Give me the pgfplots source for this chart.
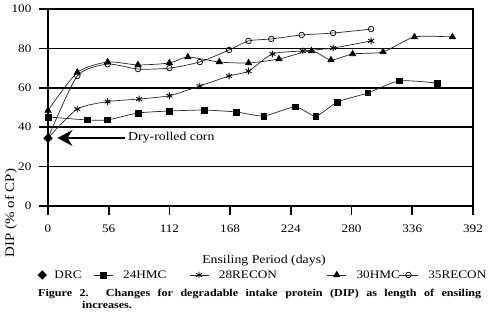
\documentclass[border=0pt]{standalone}
\usepackage{fontspec}
\setmainfont{Liberation Serif}[FakeStretch=1.15]
\usepackage{pgfplots}
\pgfplotsset{compat=1.18}
\usetikzlibrary{arrows.meta}
\begin{document}
\begin{tikzpicture}[x=1pt,y=1pt]
\useasboundingbox (0,0) rectangle (489,324);
\begin{axis}[
  at={(48pt,118pt)}, anchor=south west,
  scale only axis, width=425pt, height=197pt,
  xmin=0, xmax=392, ymin=0, ymax=100,
  xtick={0,56,112,168,224,280,336,392},
  ytick={0,40,60,80,100},
  extra y ticks={20},
  extra y tick style={major grid style={line width=0.8pt,black}},
  ymajorgrids,
  major grid style={line width=1.6pt,black},
  axis line style={line width=1.6pt,black},
  tick align=outside, xtick pos=bottom, ytick pos=left,
  major tick length=9pt,
  tick style={line width=1.6pt,black},
  /pgf/number format/assume math mode=true,
  tick label style={font=\fontsize{11.5}{13}\selectfont},
  xticklabel style={yshift=-6pt},
  yticklabel style={xshift=-4pt},
  legend columns=5,
  legend image code/.code={\draw[mark repeat=2,mark phase=2] plot coordinates {(0pt,0pt) (9.5pt,0pt) (19pt,0pt)};},
  legend style={draw=none, fill=none, inner sep=0pt, outer sep=0pt,
    at={(-0.0235,-0.3503)}, anchor=west,
    nodes={inner sep=0pt, outer sep=0pt},
    font=\fontsize{11.5}{13}\selectfont,
    /tikz/column 1/.style={column sep=8pt},
    /tikz/column 3/.style={column sep=10pt},
    /tikz/column 5/.style={column sep=10pt},
    /tikz/column 7/.style={column sep=10pt},
    /tikz/column 9/.style={column sep=10pt}},
]
% DRC (legend entry)
\addplot[only marks, mark=square*, mark size=3pt, mark options={rotate=45, fill=black, draw=black}]
  coordinates {(0,34.5)};
\addlegendentry{\makebox[39pt][l]{DRC}}
% 24HMC
\addplot[black!85, line width=0.7pt, smooth, tension=0.4,
  mark=square*, mark size=2.9pt, mark options={solid, fill=black, draw=black}]
  coordinates {(0,45.2)(36,43.7)(55,43.7)(83,47.2)(112,48.2)(144,48.7)(174,47.7)
  (199,45.7)(228,50.3)(247,45.7)(267,52.8)(295,57.4)(324,63.5)(359,62.4)};
\addlegendentry{\makebox[66pt][l]{24HMC}}
% 28RECON
\addplot[black!85, line width=0.7pt, smooth, tension=0.4,
  mark=asterisk, mark size=3.4pt, mark indices={2,...,12},
  mark options={solid, draw=black, line width=0.9pt},
  legend image code/.code={\draw[mark indices={2}] plot coordinates {(0pt,0pt) (9.5pt,0pt) (19pt,0pt)};}]
  coordinates {(0,34.5)(27,49.2)(55,53.0)(84,54.3)(112,56.0)(140,60.9)(167,66.0)
  (185,68.5)(207,77.2)(235,78.7)(263,80.2)(298,83.8)};
\addlegendentry{\makebox[108pt][l]{28RECON}}
% 30HMC
\addplot[black!85, line width=0.7pt, smooth, tension=0.4,
  mark=triangle*, mark size=3.6pt, mark options={solid, fill=black, draw=black}]
  coordinates {(0,48.5)(27,67.8)(55,73.1)(83,71.6)(112,72.6)(129,75.6)(158,73.1)
  (185,72.6)(213,74.6)(243,78.7)(261,74.1)(281,77.2)(309,78.2)(338,85.8)(373,85.8)};
\addlegendentry{\makebox[42pt][l]{30HMC}}
% 35RECON
\addplot[black!85, line width=0.7pt, smooth, tension=0.4,
  mark=o, mark size=2.8pt, mark indices={2,...,12},
  mark options={solid, draw=black, fill=white, line width=0.7pt},
  legend image code/.code={\draw[mark indices={2}] plot coordinates {(0pt,0pt) (9.5pt,0pt) (19pt,0pt)};}]
  coordinates {(0,34.5)(27,66.0)(55,72.0)(83,69.5)(112,70.0)(140,73.1)(167,79.2)
  (185,83.8)(206,84.8)(234,86.8)(263,87.8)(298,89.8)};
\addlegendentry{35RECON}
% DRC on top
\addplot[only marks, mark=square*, mark size=3pt, mark options={rotate=45, fill=black, draw=black}, forget plot]
  coordinates {(0,34.5)};
\end{axis}
% annotation
\draw[black, line width=1.1pt, -{Stealth[length=15pt, width=16pt, inset=5pt]}]
  (125,186) -- (57.5,186);
\node[anchor=west, inner sep=0pt, font=\fontsize{12}{14}\selectfont]
  at (128,186) {Dry-rolled corn};
\node[font=\fontsize{12}{14}\selectfont] at (264,63) {Ensiling Period (days)};
\node[rotate=90, font=\fontsize{13}{15}\selectfont] at (11,111) {DIP (\% of CP)};
\node[anchor=base west, inner sep=0pt, font=\bfseries\fontsize{10.5}{13}\selectfont]
  at (38,27.5) {\makebox[443pt][s]{Figure 2. Changes for degradable intake protein (DIP) as length of ensiling}};
\node[anchor=base west, inner sep=0pt, font=\bfseries\fontsize{10.5}{13}\selectfont]
  at (82,15.5) {increases.};
\end{tikzpicture}
\end{document}
